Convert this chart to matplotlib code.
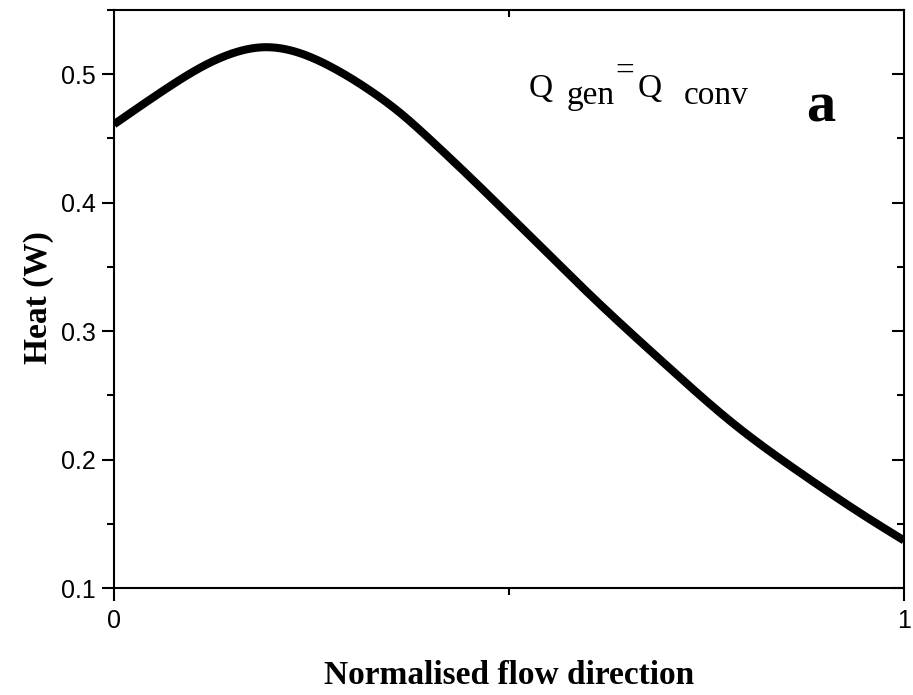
import matplotlib
matplotlib.use("Agg")
import matplotlib.pyplot as plt
import numpy as np
from matplotlib.ticker import MultipleLocator, FixedLocator

# Data
x_pos = [0.0, 0.0667, 0.109, 0.151, 0.189, 0.235, 0.277, 0.320, 0.362, 0.404,
         0.447, 0.530, 0.615, 0.700, 0.784, 0.868, 0.953, 1.0]
heat = [0.461, 0.489, 0.505, 0.5165, 0.521, 0.5165, 0.505, 0.489, 0.470, 0.447,
        0.422, 0.372, 0.321, 0.273, 0.228, 0.190, 0.155, 0.137]

xtick_vals = [0, 1]
xtick_labels = ["0", "1"]
ytick_vals = [0.1, 0.2, 0.3, 0.4, 0.5]
ytick_labels = ["0.1", "0.2", "0.3", "0.4", "0.5"]


def spline(x, y, xn):
    x = np.asarray(x, float); y = np.asarray(y, float)
    n = len(x)
    h = np.diff(x)
    A = np.zeros((n, n)); b = np.zeros(n)
    A[0, 0] = 1; A[-1, -1] = 1
    for i in range(1, n - 1):
        A[i, i - 1] = h[i - 1]; A[i, i] = 2 * (h[i - 1] + h[i]); A[i, i + 1] = h[i]
        b[i] = 3 * ((y[i + 1] - y[i]) / h[i] - (y[i] - y[i - 1]) / h[i - 1])
    c = np.linalg.solve(A, b)
    out = np.empty_like(xn)
    for k, xv in enumerate(xn):
        i = int(np.clip(np.searchsorted(x, xv, side="right") - 1, 0, n - 2))
        d = xv - x[i]
        bb = (y[i + 1] - y[i]) / h[i] - h[i] * (2 * c[i] + c[i + 1]) / 3
        dd = (c[i + 1] - c[i]) / (3 * h[i])
        out[k] = y[i] + bb * d + c[i] * d ** 2 + dd * d ** 3
    return out


fig = plt.figure(figsize=(9.13, 6.95), dpi=100)
ax = fig.add_axes([114/913, 1-588/695, (904-114)/913, (588-10)/695])

xn = np.linspace(0, 1, 500)
ax.plot(xn, spline(x_pos, heat, xn), color="black", lw=5.8, solid_capstyle="butt")

ax.set_xlim(0, 1)
ax.set_ylim(0.1, 0.55)

for s in ax.spines.values():
    s.set_linewidth(1.5)

tick_font = {"family": "Liberation Sans", "size": 18}
ax.xaxis.set_major_locator(FixedLocator(xtick_vals))
ax.set_xticklabels(xtick_labels, fontdict=tick_font)
ax.xaxis.set_minor_locator(FixedLocator([0.5]))
ax.yaxis.set_major_locator(FixedLocator(ytick_vals))
ax.set_yticklabels(ytick_labels, fontdict=tick_font)
ax.yaxis.set_minor_locator(MultipleLocator(0.05))

ax.tick_params(axis="both", which="major", direction="out", length=9, width=1.5, pad=4)
ax.tick_params(axis="both", which="minor", direction="out", length=5, width=1.5)
ax.tick_params(axis="x", which="major", pad=6)

axr = ax.secondary_yaxis("right")
axr.yaxis.set_major_locator(FixedLocator(ytick_vals))
axr.yaxis.set_minor_locator(MultipleLocator(0.05))
axr.tick_params(which="major", direction="in", length=9, width=1.5, labelright=False)
axr.tick_params(which="minor", direction="in", length=5, width=1.5)
axr.spines["right"].set_visible(False)
axt = ax.secondary_xaxis("top")
axt.xaxis.set_major_locator(FixedLocator(xtick_vals))
axt.xaxis.set_minor_locator(FixedLocator([0.5]))
axt.tick_params(which="major", direction="in", length=0, width=1.5, labeltop=False)
axt.tick_params(which="minor", direction="in", length=5, width=1.5)
axt.spines["top"].set_visible(False)

label_font = {"family": "Liberation Serif", "size": 24, "weight": "bold"}
fig.text(0.5*(114+904)/913, 1-675/695, "Normalised flow direction", ha="center", va="center", fontdict=label_font)
fig.text(38/913, 1-298/695, "Heat (W)", ha="center", va="center", rotation=90, fontdict=label_font)

serif = {"family": "Liberation Serif", "size": 24}


def px(xp, yp):
    return xp/913, 1-yp/695


fig.text(*px(529, 97), "Q", ha="left", va="baseline", fontdict=serif)
fig.text(*px(567, 104), "gen", ha="left", va="baseline", fontdict=serif)
fig.text(*px(615, 80), "=", ha="left", va="baseline", fontdict=serif)
fig.text(*px(638, 97), "Q", ha="left", va="baseline", fontdict=serif)
fig.text(*px(684, 104), "conv", ha="left", va="baseline", fontdict=serif)
fig.text(*px(806, 122), "a", ha="left", va="baseline",
         fontdict={"family": "Liberation Serif", "size": 42, "weight": "bold"})

fig.savefig("out.png", dpi=100)
